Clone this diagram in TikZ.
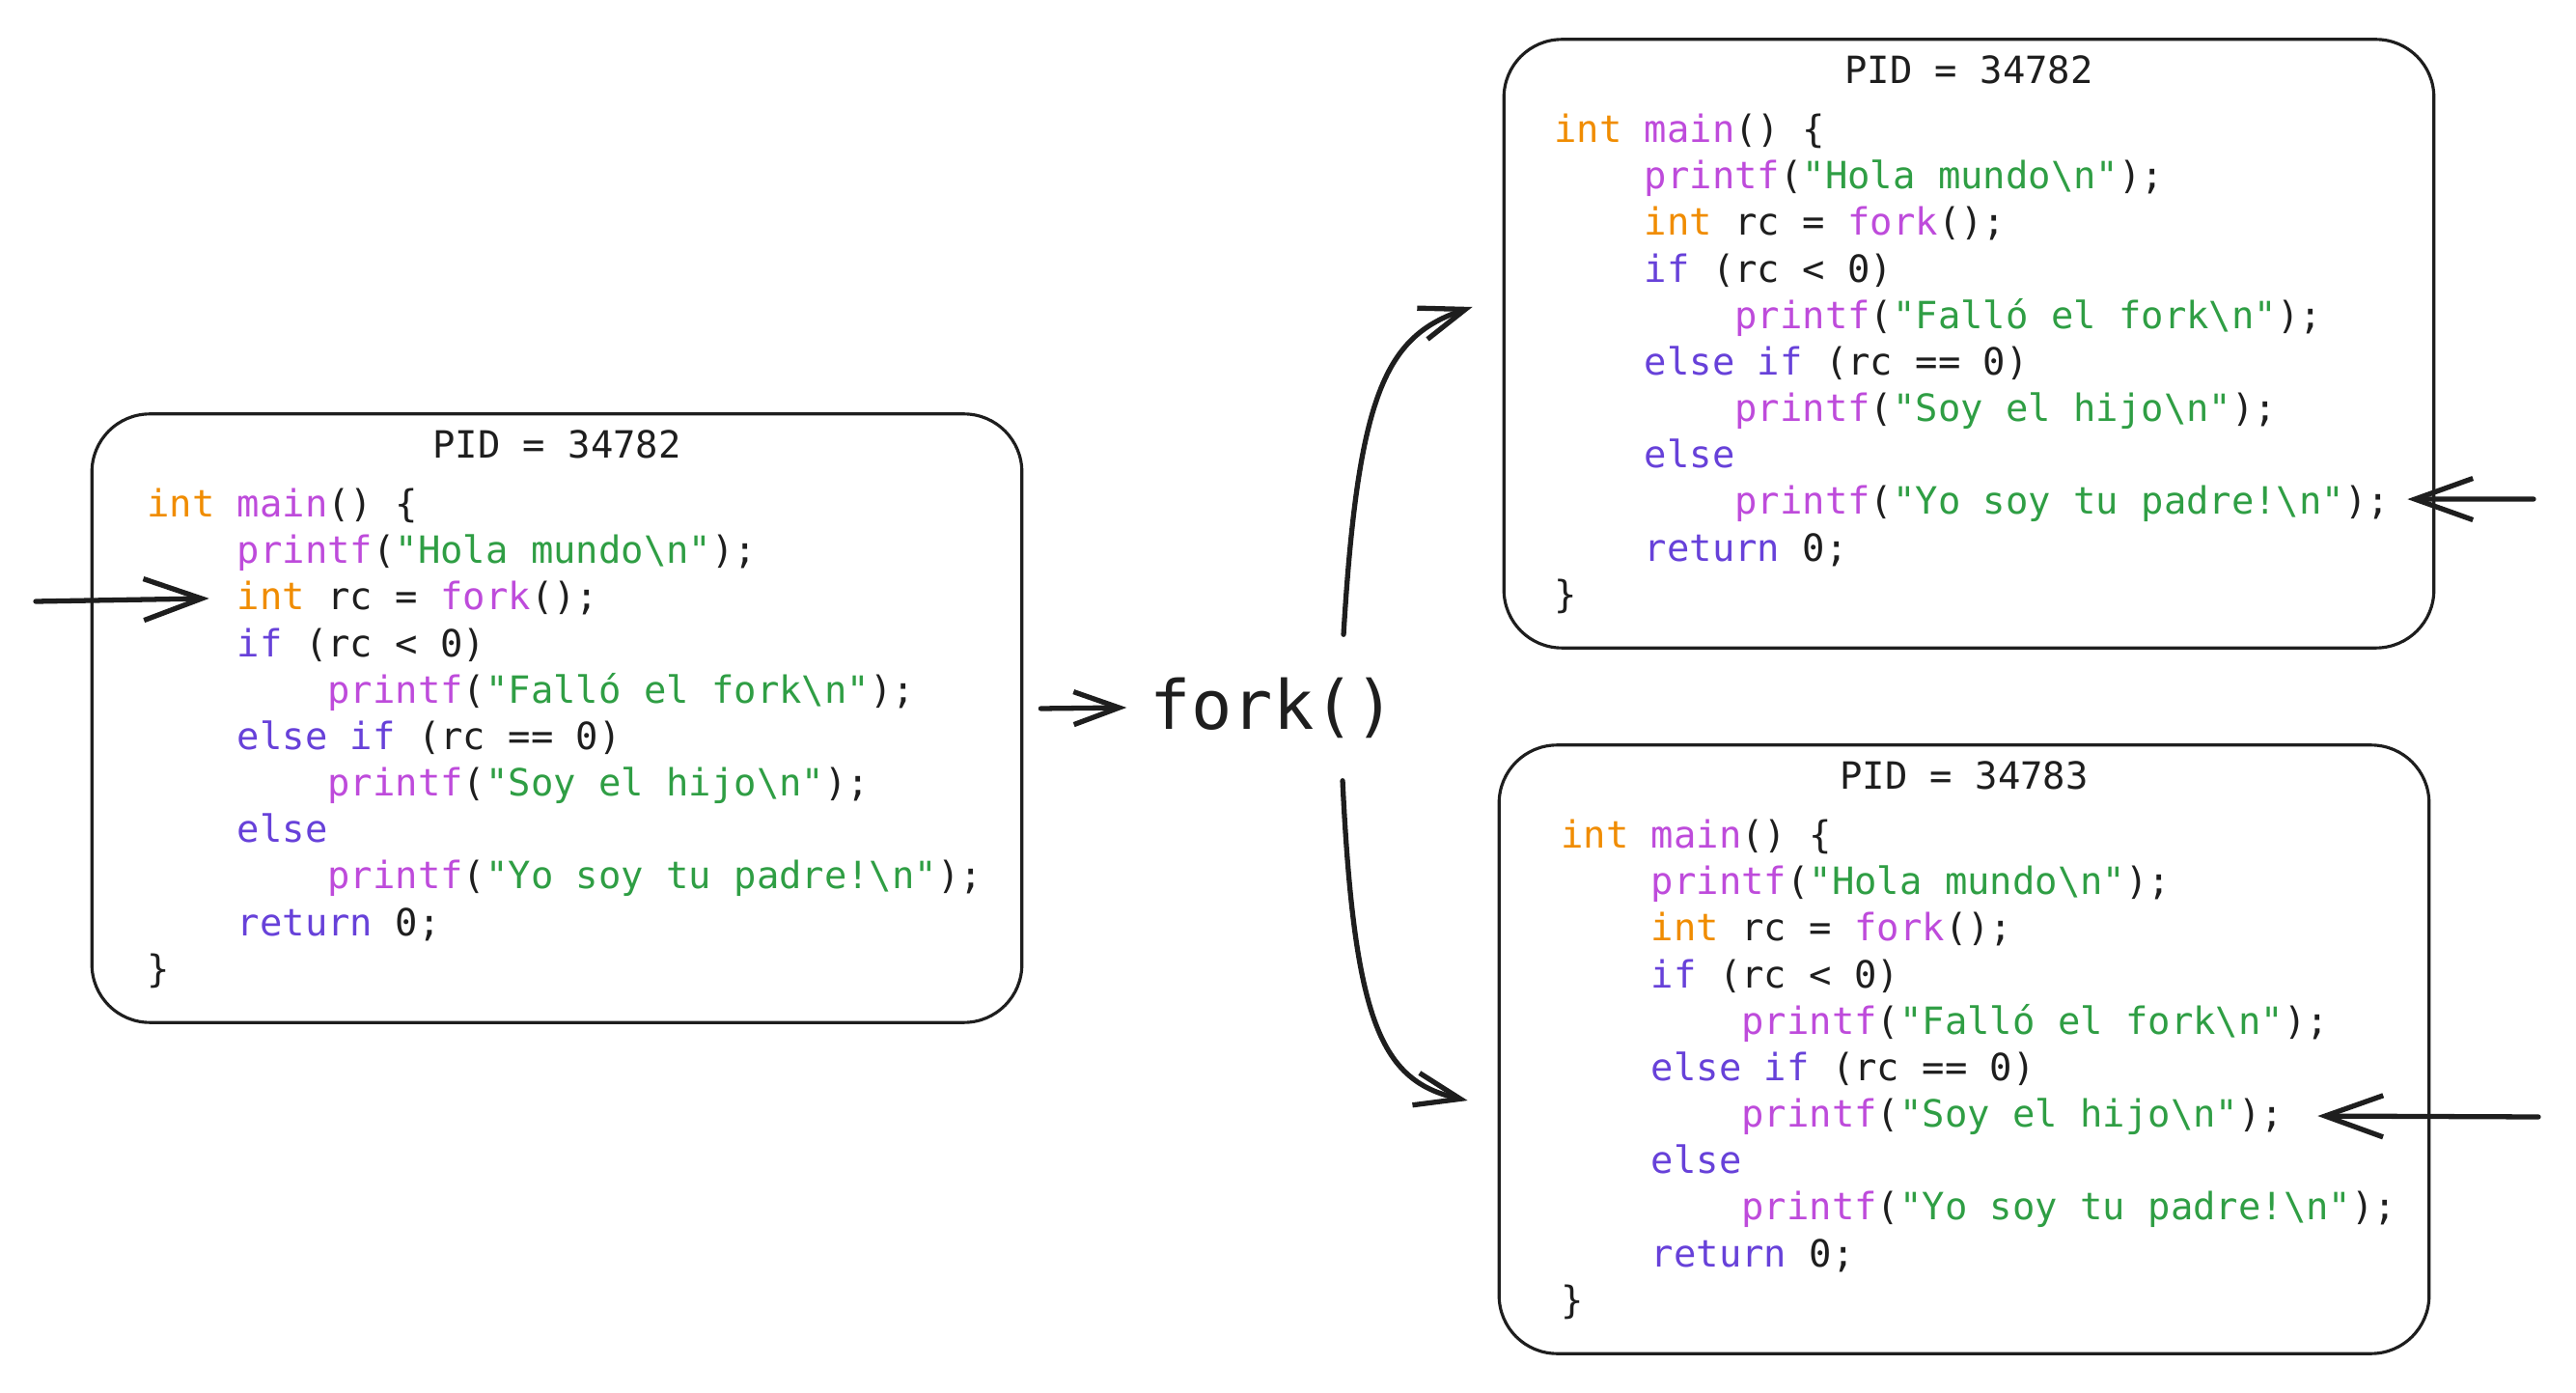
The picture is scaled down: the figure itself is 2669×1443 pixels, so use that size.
\documentclass[tikz,border=0pt]{standalone}
\usepackage{fontspec}
\usepackage{xcolor}
\usetikzlibrary{positioning,arrows.meta}
\newfontfamily\codefont{DejaVu Sans Mono}

\definecolor{cink}{HTML}{1E1E1E}
\definecolor{ctype}{HTML}{F08C00}
\definecolor{cfunc}{HTML}{BE4BDB}
\definecolor{ckey}{HTML}{6741D9}
\definecolor{cstring}{HTML}{2F9E44}

\newcommand{\tokty}[1]{\textcolor{ctype}{#1}}
\newcommand{\tokfn}[1]{\textcolor{cfunc}{#1}}
\newcommand{\tokkw}[1]{\textcolor{ckey}{#1}}
\newcommand{\tokstr}[1]{\textcolor{cstring}{#1}}
\newcommand{\indt}{\phantom{0000}}
\newcommand{\forkcode}{%
\tokty{int} \tokfn{main}() \{\\
\indt\tokfn{printf}(\tokstr{"Hola mundo\textbackslash n"});\\
\indt\tokty{int} rc = \tokfn{fork}();\\
\indt\tokkw{if} (rc < 0)\\
\indt\indt\tokfn{printf}(\tokstr{"Falló el fork\textbackslash n"});\\
\indt\tokkw{else if} (rc == 0)\\
\indt\indt\tokfn{printf}(\tokstr{"Soy el hijo\textbackslash n"});\\
\indt\tokkw{else}\\
\indt\indt\tokfn{printf}(\tokstr{"Yo soy tu padre!\textbackslash n"});\\
\indt\tokkw{return} 0;\\
\}}

\begin{document}
\begin{tikzpicture}[
    x=0.01cm, y=-0.01cm,
    procbox/.style={draw=cink, line width=0.9pt, rounded corners=0.6cm, minimum width=9.63cm, minimum height=6.3cm, inner sep=0pt},
    pidlabel/.style={font=\codefont\fontsize{11.05}{13.7}\selectfont, text=cink, inner sep=0pt},
    listing/.style={font=\codefont\fontsize{11.05}{13.7}\selectfont, text=cink, align=left, anchor=north west, inner sep=0pt},
    arr/.style={-{Straight Barb[length=6mm, width=4.3mm]}, line width=1.5pt, line cap=round, draw=cink},
    arrs/.style={-{Straight Barb[length=4.7mm, width=3.4mm]}, line width=1.5pt, line cap=round, draw=cink}
]
\useasboundingbox (0,0) rectangle (2669,1443);

% parent process
\node[procbox] (boxL) at (577,744) {};
\node[pidlabel] (pidL) at ([yshift=-0.33cm]boxL.north) {PID = 34782};
\node[listing] (codeL) at ([xshift=0.58cm, yshift=-0.78cm]boxL.north west) {\forkcode};

% parent after fork
\node[procbox] (boxTR) at (2040,356) {};
\node[pidlabel] (pidTR) at ([yshift=-0.33cm]boxTR.north) {PID = 34782};
\node[listing] (codeTR) at ([xshift=0.53cm, yshift=-0.78cm]boxTR.north west) {\forkcode};

% child
\node[procbox] (boxBR) at (2035,1087) {};
\node[pidlabel] (pidBR) at ([yshift=-0.33cm]boxBR.north) {PID = 34783};
\node[listing] (codeBR) at ([xshift=0.65cm, yshift=-0.78cm]boxBR.north west) {\forkcode};

\node[font=\codefont\fontsize{20}{24}\selectfont, text=cink, inner sep=0pt, minimum height=1.5cm] (fork) at (1319,733) {fork()};

\coordinate (inL) at (37,623);
\coordinate (inTR) at (2625,517);
\coordinate (inBR) at (2630,1157);

\draw[arr] (inL) -- ([xshift=1.23cm, yshift=1.24cm]boxL.west);
\draw[arrs] ([xshift=0.18cm, yshift=0.1cm]boxL.east) -- ([xshift=-0.24cm]fork.west);
\draw[arrs] ([xshift=0.73cm]fork.north) .. controls +(15,-250) and +(-90,30) .. ([xshift=-0.31cm, yshift=0.38cm]boxTR.west);
\draw[arrs] ([xshift=0.72cm]fork.south) .. controls +(12,250) and +(-90,-20) .. ([xshift=-0.31cm, yshift=-0.53cm]boxBR.west);
\draw[arr] (inTR) -- ([xshift=-0.29cm, yshift=-1.61cm]boxTR.east);
\draw[arr] (inBR) -- ([xshift=-1.17cm, yshift=-0.69cm]boxBR.east);

\end{tikzpicture}
\end{document}
